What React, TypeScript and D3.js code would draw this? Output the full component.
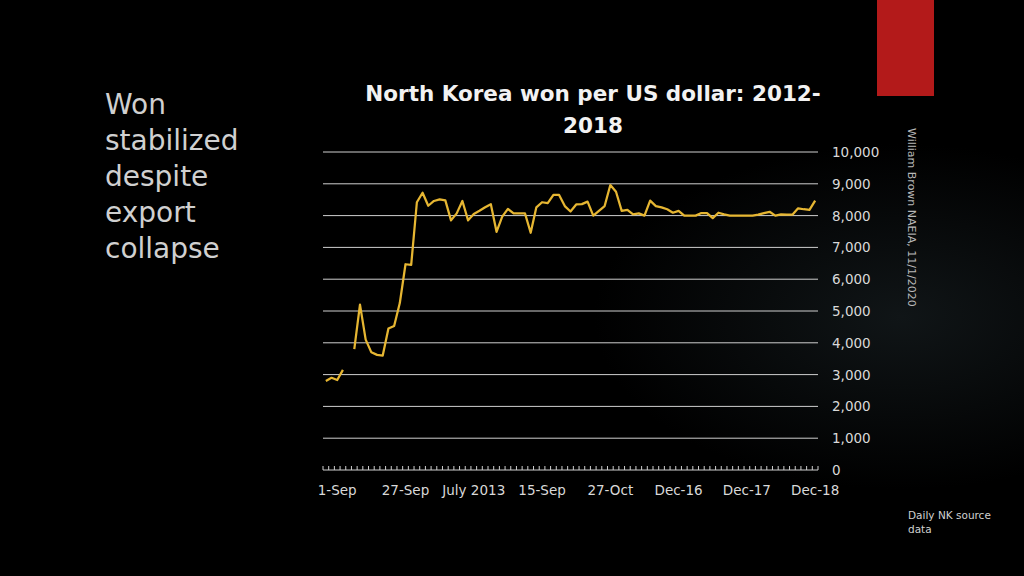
import React from "react";
import * as d3 from "d3";

// KPW per USD, one value per category (null = gap)
const wonPerUsd: (number | null)[] = [
  2800, 2900, 2830, 3150, null, 3800, 5200, 4100, 3700, 3620,
  3600, 4450, 4530, 5250, 6470, 6450, 8420, 8720, 8310, 8460,
  8510, 8480, 7850, 8070, 8460, 7850, 8050, 8150, 8260, 8360,
  7490, 7970, 8210, 8070, 8070, 8070, 7460, 8260, 8420, 8390,
  8650, 8650, 8300, 8130, 8350, 8360, 8440, 8000, 8150, 8300,
  8960, 8750, 8150, 8180, 8040, 8070, 8000, 8470, 8300, 8260,
  8200, 8090, 8150, 8000, 8000, 8000, 8080, 8080, 7920, 8090,
  8040, 8000, 8000, 8000, 8000, 8000, 8030, 8080, 8120, 8000,
  8040, 8030, 8030, 8230, 8200, 8180, 8470,
];

const xLabels = ["1-Sep", "27-Sep", "July 2013", "15-Sep", "27-Oct", "Dec-16", "Dec-17", "Dec-18"];
const xLabelIndices = [2, 14, 26, 38, 50, 62, 74, 86];
const yTicks = [0, 1000, 2000, 3000, 4000, 5000, 6000, 7000, 8000, 9000, 10000];
const titleLines = ["North Korea won per US dollar: 2012-", "2018"];
const sideLines = ["Won", "stabilized", "despite", "export", "collapse"];
const creditText = "William Brown NAEIA, 11/1/2020";
const sourceLines = ["Daily NK source", "data"];

const FONT = "'DejaVu Sans', sans-serif";

export default function App() {
  const W = 1024, H = 576;
  const left = 323, right = 818, top = 152, bottom = 470;
  const idx = d3.range(wonPerUsd.length);
  const x = d3.scaleBand<number>().domain(idx).range([left, right]).padding(0);
  const cx = (i: number) => (x(i) as number) + x.bandwidth() / 2;
  const y = d3.scaleLinear().domain([0, 10000]).range([bottom, top]);
  const line = d3
    .line<number | null>()
    .defined((d) => d !== null)
    .x((_, i) => cx(i))
    .y((d) => y(d as number));
  const tickXs = d3.range(wonPerUsd.length + 1).map((i) => left + i * x.bandwidth());

  return (
    <div style={{ position: "fixed", left: 0, top: 0, width: W, height: H }}>
      <svg width={W} height={H} style={{ display: "block" }}>
        <defs>
          <radialGradient id="glow" cx="0.88" cy="0.55" r="0.3">
            <stop offset="0%" stopColor="#101517" />
            <stop offset="100%" stopColor="#000000" />
          </radialGradient>
        </defs>
        <rect width={W} height={H} fill="#000" />
        <rect width={W} height={H} fill="url(#glow)" />
        <rect x={877} y={0} width={57} height={96} fill="#b31a1a" />

        {sideLines.map((t, i) => (
          <text key={t} x={105} y={114 + i * 36} fill="#d0d0d0" fontFamily={FONT} fontSize={28}>
            {t}
          </text>
        ))}

        {titleLines.map((t, i) => (
          <text key={t} x={593} y={101 + i * 32} fill="#f2f2f2" fontFamily={FONT} fontWeight="bold" fontSize={21.5} textAnchor="middle">
            {t}
          </text>
        ))}

        {yTicks.map((v) => (
          <g key={v}>
            {v > 0 && <line x1={left} x2={right} y1={y(v)} y2={y(v)} stroke="#cfcfcf" strokeWidth={1} />}
            <text x={832} y={y(v) + 5} fill="#d9d9d9" fontFamily={FONT} fontSize={13.5}>
              {d3.format(",")(v)}
            </text>
          </g>
        ))}

        <line x1={left} x2={right} y1={bottom} y2={bottom} stroke="#cfcfcf" strokeWidth={1} />
        {tickXs.map((tx, i) => (
          <line key={i} x1={tx} x2={tx} y1={bottom - 4} y2={bottom} stroke="#cfcfcf" strokeWidth={1} />
        ))}

        {xLabelIndices.map((ci, k) => (
          <text key={k} x={cx(ci)} y={495} fill="#d9d9d9" fontFamily={FONT} fontSize={13.5} textAnchor="middle">
            {xLabels[k]}
          </text>
        ))}

        <path d={line(wonPerUsd) || ""} fill="none" stroke="#e6b632" strokeWidth={2.25} strokeLinejoin="round" />

        <text
          transform="translate(908,128) rotate(90)"
          fill="#b8b8b8"
          fontFamily={FONT}
          fontSize={11}
        >
          {creditText}
        </text>

        {sourceLines.map((t, i) => (
          <text key={t} x={908} y={519 + i * 14} fill="#d0d0d0" fontFamily={FONT} fontSize={10.5}>
            {t}
          </text>
        ))}
      </svg>
    </div>
  );
}
